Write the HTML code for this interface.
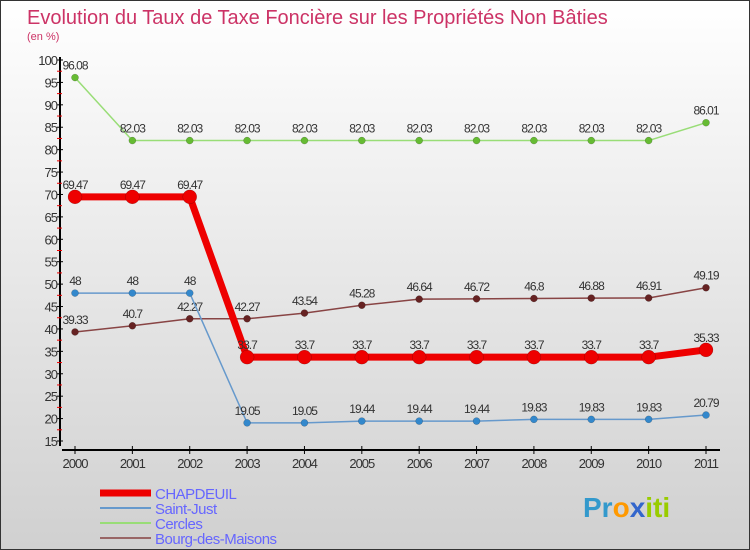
<!DOCTYPE html>
<html><head><meta charset="utf-8"><style>
body{margin:0;}
#c{position:relative;width:750px;height:550px;overflow:hidden;font-family:"Liberation Sans",sans-serif;}
</style></head><body>
<div id="c">
<svg id="s" width="750" height="550" xmlns="http://www.w3.org/2000/svg">
<defs><linearGradient id="bg" x1="0" y1="0" x2="0" y2="1"><stop offset="0" stop-color="#ffffff"/><stop offset="1" stop-color="#d0d0d0"/></linearGradient></defs>
<rect x="0.5" y="0.5" width="749" height="549" fill="url(#bg)" stroke="#333"/>
<text x="27" y="24" font-size="20" fill="#cc3366">Evolution du Taux de Taxe Foncière sur les Propriétés Non Bâties</text>
<text x="27" y="40" font-size="11" fill="#cc3366">(en %)</text>
<g id="axes"></g><g id="series"></g><g id="legend"></g>
<text x="583" y="517" font-size="28" font-weight="bold"><tspan fill="#3399cc">Pr</tspan><tspan fill="#ff9900">o</tspan><tspan fill="#3366cc">x</tspan><tspan fill="#99cc00">iti</tspan></text>
</svg>
</div>
<script>
const years=[2000,2001,2002,2003,2004,2005,2006,2007,2008,2009,2010,2011];
const chapdeuil=[69.47,69.47,69.47,33.7,33.7,33.7,33.7,33.7,33.7,33.7,33.7,35.33];
const saintJust=[48,48,48,19.05,19.05,19.44,19.44,19.44,19.83,19.83,19.83,20.79];
const cercles=[96.08,82.03,82.03,82.03,82.03,82.03,82.03,82.03,82.03,82.03,82.03,86.01];
const bourg=[39.33,40.7,42.27,42.27,43.54,45.28,46.64,46.72,46.8,46.88,46.91,49.19];
const yTicks=[15,20,25,30,35,40,45,50,55,60,65,70,75,80,85,90,95,100];
const seriesNames=["CHAPDEUIL","Saint-Just","Cercles","Bourg-des-Maisons"];
const NS="http://www.w3.org/2000/svg";
const X=i=>75+i*(706-75)/(years.length-1);
const Y=v=>60+(100-v)*(381/85);
function mk(p,t,a){const e=document.createElementNS(NS,t);for(const k in a)e.setAttribute(k,a[k]);p.appendChild(e);return e;}
const ax=document.getElementById('axes');
let l=mk(ax,'line',{x1:60,y1:57,x2:60,y2:446,stroke:'#000','stroke-width':2});


l=mk(ax,'line',{x1:62,y1:450,x2:720,y2:450,stroke:'#000','stroke-width':2});


yTicks.forEach(v=>{
  mk(ax,'line',{x1:57,y1:Y(v),x2:63,y2:Y(v),stroke:'#000'});
  if(v<100) mk(ax,'line',{x1:57,y1:Y(v+2.5),x2:62,y2:Y(v+2.5),stroke:'#e00'});
  const t=mk(ax,'text',{x:57,y:Y(v)+5,'font-size':13,'text-anchor':'end',fill:'#333','letter-spacing':'-1'});
  t.textContent=v;
  
  
});
years.forEach((yr,i)=>{
  mk(ax,'line',{x1:X(i),y1:446,x2:X(i),y2:454,stroke:'#000'});
  const t=mk(ax,'text',{x:X(i),y:468,'font-size':13,'text-anchor':'middle',fill:'#333','letter-spacing':'-1'});
  t.textContent=yr;
  
  
});
const sg=document.getElementById('series');
const defs=[[cercles,'#99dd77','#66bb33',1.5,3.5,'cercles'],[bourg,'#884444','#662222',1.5,3.5,'bourg-des-maisons'],[saintJust,'#6699cc','#3388cc',1.5,3.5,'saint-just'],[chapdeuil,'#ee0000','#ee0000',7,7,'chapdeuil']];
defs.forEach(([d,lc,pc,w,r,n])=>{
  const pl=mk(sg,'polyline',{points:d.map((v,i)=>X(i)+','+Y(v)).join(' '),fill:'none',stroke:lc,'stroke-width':w,'stroke-linejoin':'round'});
  
  
  d.forEach((v,i)=>{
    const c=mk(sg,'circle',{cx:X(i),cy:Y(v),r:r,fill:pc,stroke:'rgba(0,0,0,0.3)','stroke-width':0.5});
    
    
    const t=mk(sg,'text',{x:X(i),y:Y(v)-8,'font-size':12,'text-anchor':'middle',fill:'#333','letter-spacing':'-1'});
    t.textContent=v;
    
    
  });
});
const lg=document.getElementById('legend');
const lcols=['#ee0000','#6699cc','#99dd77','#996666'],lw=[7,2,2,2];
seriesNames.forEach((nm,i)=>{
  const y=493+i*15;
  const ln=mk(lg,'line',{x1:100,y1:y,x2:151,y2:y,stroke:lcols[i],'stroke-width':lw[i]});
  
  
  const t=mk(lg,'text',{x:155,y:y+6,'font-size':15,fill:'#6666ff','letter-spacing':'-0.5'});
  t.textContent=nm;
  
  
});
</script>
</body></html>
